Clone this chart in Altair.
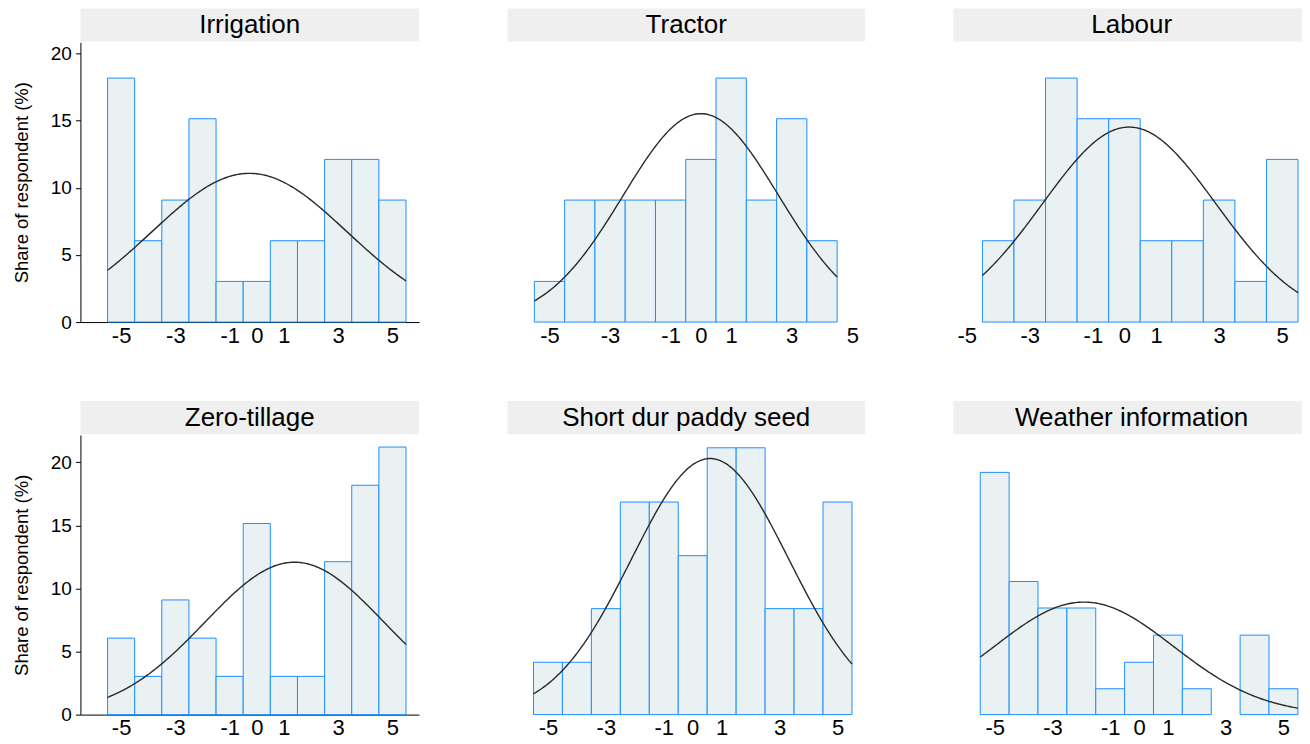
import altair as alt
import pandas as pd

# ---- data ----
titles = ["Irrigation", "Tractor", "Labour",
          "Zero-tillage", "Short dur paddy seed", "Weather information"]

irrigation_x = [-5, -4, -3, -2, -1, 0, 1, 2, 3, 4, 5]
irrigation_v = [18.18, 6.06, 9.09, 15.15, 3.03, 3.03, 6.06, 6.06, 12.12, 12.12, 9.09]

tractor_x = [-5, -4, -3, -2, -1, 0, 1, 2, 3, 4]
tractor_v = [3.03, 9.09, 9.09, 9.09, 9.09, 12.12, 18.18, 9.09, 15.15, 6.06]

labour_x = [-4, -3, -2, -1, 0, 1, 2, 3, 4, 5]
labour_v = [6.06, 9.09, 18.18, 15.15, 15.15, 6.06, 6.06, 9.09, 3.03, 12.12]

zerotill_x = [-5, -4, -3, -2, -1, 0, 1, 2, 3, 4, 5]
zerotill_v = [6.06, 3.03, 9.09, 6.06, 3.03, 15.15, 3.03, 3.03, 12.12, 18.18, 21.21]

paddy_x = [-5, -4, -3, -2, -1, 0, 1, 2, 3, 4, 5]
paddy_v = [4.15, 4.15, 8.4, 16.85, 16.85, 12.6, 21.15, 21.15, 8.4, 8.4, 16.85]

weather_x = [-5, -4, -3, -2, -1, 0, 1, 2, 4, 5]
weather_v = [19.2, 10.55, 8.45, 8.45, 2.05, 4.15, 6.3, 2.05, 6.3, 2.05]

# normal-curve overlay parameters (mean, sd, peak height, start, end)
curve_mean = [-0.27, 0.0, 0.15, 1.39, 0.6, -1.91]
curve_sd = [3.6, 2.57, 2.75, 3.30, 2.72, 3.1]
curve_peak = [11.08, 15.53, 14.53, 12.08, 20.3, 8.92]
curve_lo = [-5.5, -5.5, -4.5, -5.5, -5.5, -5.5]
curve_hi = [5.5, 4.5, 5.5, 5.5, 5.5, 5.5]

x_ticks = [-5, -3, -1, 0, 1, 3, 5]
y_ticks = [0, 5, 10, 15, 20]

# ---- layout ----
x_domains = [[-6.5, 5.98], [-6.39, 5.42], [-5.42, 5.88],
             [-6.5, 5.98], [-6.4, 5.95], [-6.43, 5.92]]
widths = [339, 358, 357, 339, 358, 357]
y_domains = [[0, 20.84], [0, 22.17]]
H = 280

FONT = "Liberation Sans"
FILL = "#eaf1f3"
STROKE = "#1e8fff"

xs = [irrigation_x, tractor_x, labour_x, zerotill_x, paddy_x, weather_x]
vs = [irrigation_v, tractor_v, labour_v, zerotill_v, paddy_v, weather_v]


def panel(i):
    left = i % 3 == 0
    row = i // 3
    W = widths[i]
    df = pd.DataFrame({"x": xs[i], "val": vs[i]})
    xscale = alt.Scale(domain=x_domains[i], nice=False, zero=False)
    yscale = alt.Scale(domain=y_domains[row], nice=False, zero=True)
    xaxis = alt.Axis(values=x_ticks, title=None, grid=False, ticks=False, tickSize=0,
                     labelFontSize=22, labelPadding=3, labelOverlap=False,
                     labelFlush=False, labelColor="#000", labelFont=FONT,
                     labelExpr="'' + datum.value",
                     domain=left, domainColor="#000", domainWidth=1)
    if left:
        yaxis = alt.Axis(values=y_ticks, title="Share of respondent (%)", grid=False,
                         tickSize=5, tickColor="#000", domainColor="#000",
                         labelFontSize=19, labelColor="#000", labelFont=FONT,
                         labelPadding=4, titleFontSize=18.5, titleFont=FONT,
                         titleFontWeight="normal", titleColor="#000", titlePadding=19)
    else:
        yaxis = None

    bars = alt.Chart(df).transform_calculate(
        x0="datum.x - 0.5", x1="datum.x + 0.5"
    ).mark_rect(fill=FILL, stroke=STROKE, strokeWidth=1).encode(
        x=alt.X("x0:Q", scale=xscale, axis=xaxis),
        x2="x1:Q",
        y=alt.Y("val:Q", scale=yscale, axis=yaxis),
        y2=alt.datum(0),
    )

    m, s, p = curve_mean[i], curve_sd[i], curve_peak[i]
    curve = alt.Chart(alt.sequence(curve_lo[i], curve_hi[i] + 0.001, 0.05, as_="t")).transform_calculate(
        y=f"{p} * exp(-0.5 * pow((datum.t - ({m})) / {s}, 2))"
    ).mark_line(color="#2a2a2a", strokeWidth=1.4).encode(
        x=alt.X("t:Q", scale=xscale),
        y=alt.Y("y:Q", scale=yscale),
    )

    hdr = pd.DataFrame({"title": [titles[i]]})
    head_bg = alt.Chart(hdr).mark_rect(color="#efefef").encode(
        x=alt.value(0), x2=alt.value(W), y=alt.value(-34), y2=alt.value(-1)
    )
    head_txt = alt.Chart(hdr).mark_text(
        font=FONT, fontSize=26, color="#000", align="center", baseline="middle"
    ).encode(text="title:N", x=alt.value(W / 2), y=alt.value(-17))

    return alt.layer(head_bg, head_txt, bars, curve).properties(width=W, height=H)


row1 = alt.hconcat(*[panel(i) for i in range(3)], spacing=88.5)
row2 = alt.hconcat(*[panel(i) for i in range(3, 6)], spacing=88.5)
chart = alt.vconcat(row1, row2, spacing=55).properties(
    padding={"left": 3.5, "top": 0, "right": -8, "bottom": 0}
).configure(font=FONT).configure_view(stroke=None)

chart.save("out.html", embed_options={"renderer": "svg", "actions": False})
